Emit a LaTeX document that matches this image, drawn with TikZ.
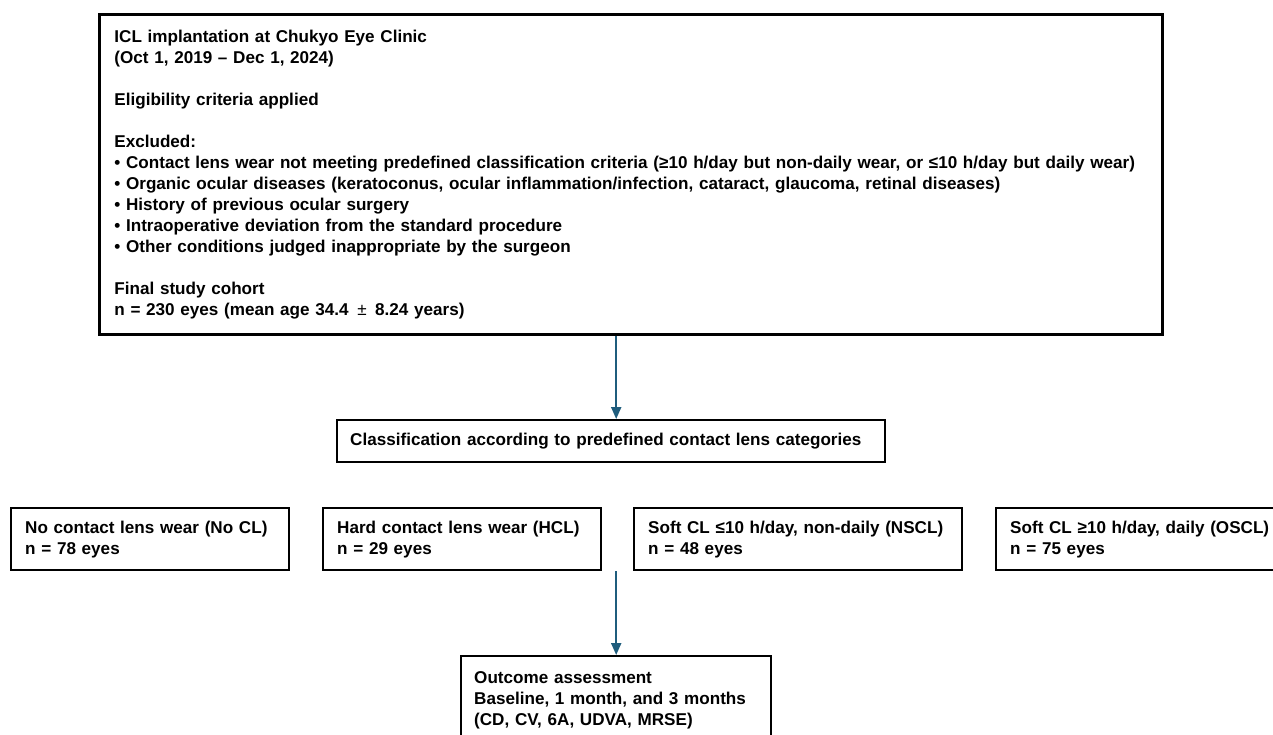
\documentclass[tikz,border=0pt]{standalone}
\usepackage{fontspec}
\setmainfont{Liberation Sans}
\usepackage{xcolor}
\usetikzlibrary{arrows.meta,calc}
\definecolor{flowblue}{RGB}{31,93,125}

\begin{document}
\begin{tikzpicture}[x=1pt,y=-1pt,
box/.style={draw,line width=2.4pt,anchor=north west,align=left,inner xsep=14pt,inner ysep=0pt,font=\fontsize{17.1}{21}\selectfont\bfseries},
flow/.style={draw=flowblue,line width=2pt,-{Triangle[length=12pt,width=10pt]},color=flowblue}]
\useasboundingbox (0,0) rectangle (1273,734);
\clip (0,0) rectangle (1273,734);
\node[box,minimum width=1063,minimum height=320,text width=1033,inner xsep=15pt,line width=2.8pt](top) at (98,13)
{ICL implantation at Chukyo Eye Clinic\\(Oct 1, 2019 – Dec 1, 2024)\\[21pt]
Eligibility criteria applied\\[21pt]
Excluded:\\
• Contact lens wear not meeting predefined classification criteria (≥10 h/day but non-daily wear, or ≤10 h/day but daily wear)\\
• Organic ocular diseases (keratoconus, ocular inflammation/infection, cataract, glaucoma, retinal diseases)\\
• History of previous ocular surgery\\
• Intraoperative deviation from the standard procedure\\
• Other conditions judged inappropriate by the surgeon\\[21pt]
Final study cohort\\
n = 230 eyes (mean age 34.4 \,{\mdseries ±}\, 8.24 years)};
\node[box,minimum width=548,minimum height=42,text width=522,inner xsep=13pt](cls) at (336,419)
{Classification according to predefined contact lens categories};
% four groups
\node[box,minimum width=278,minimum height=62,text width=250](nocl) at (10,507) {No contact lens wear (No CL)\\n = 78 eyes};
\node[box,minimum width=278,minimum height=62,text width=250](hcl) at (322,507) {Hard contact lens wear (HCL)\\n = 29 eyes};
\node[box,minimum width=328,minimum height=62,text width=300](nscl) at (633,507) {Soft CL ≤10 h/day, non-daily (NSCL)\\n = 48 eyes};
\node[box,minimum width=300,minimum height=62,text width=272](oscl) at (995,507) {Soft CL ≥10 h/day, daily (OSCL)\\n = 75 eyes};
\node[box,minimum width=310,minimum height=88,text width=284,inner xsep=13pt](out) at (460,655)
{Outcome assessment\\Baseline, 1 month, and 3 months\\(CD, CV, 6A, UDVA, MRSE)};
\draw[flow](out.north |- top.south)--(out.north |- cls.north);
\draw[flow](out.north |- nscl.south)--(out.north);
\end{tikzpicture}
\end{document}
